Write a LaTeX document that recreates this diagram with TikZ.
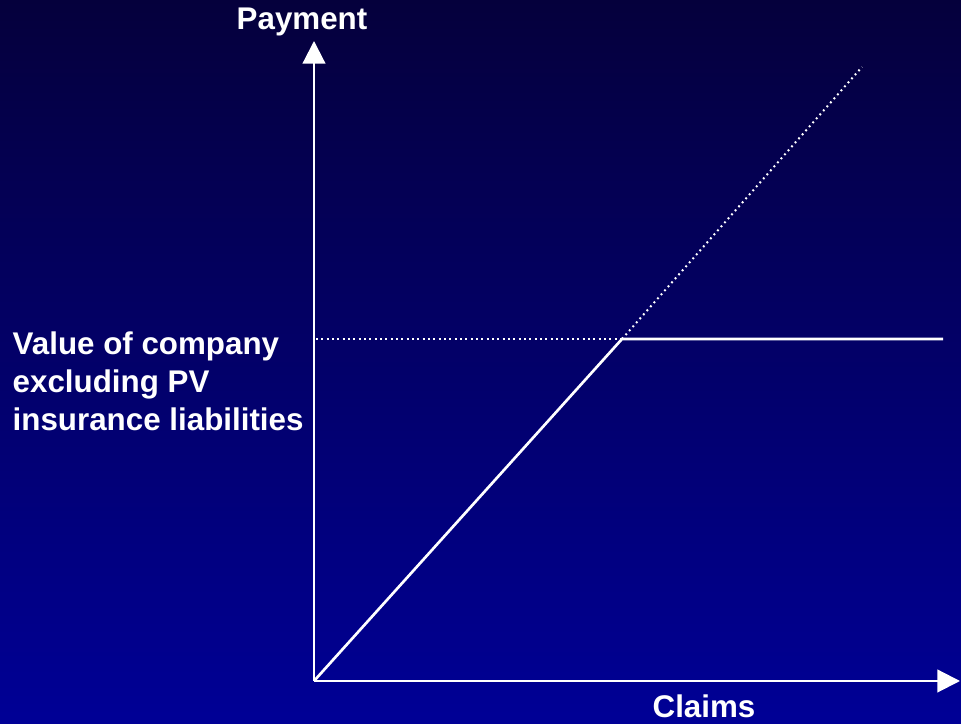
\documentclass[tikz,border=0pt]{standalone}
\usepackage{fontspec}
\setmainfont{Liberation Sans}
\usetikzlibrary{arrows.meta}
\definecolor{bgtop}{RGB}{5,0,60}
\definecolor{bgbottom}{RGB}{0,0,150}
\tikzset{
    axis/.style={white, line width=1.6pt, -{Triangle[width=17pt,length=17pt]}},
    payoff/.style={white, line width=2pt},
    guide/.style={white, line width=1.5pt, dash pattern=on 1.4pt off 2.6pt},
    lbl/.style={white, font=\fontsize{23.5}{28.5}\selectfont\bfseries}
}
\begin{document}
\begin{tikzpicture}[x=0.75pt,y=0.75pt]
    % background
    \fill[top color=bgtop,bottom color=bgbottom] (0,0) rectangle (961,724);
    \useasboundingbox (0,0) rectangle (961,724);

    \coordinate (O) at (314,43);
    \coordinate (ytip) at (314,683);
    \coordinate (xtip) at (960,43);
    \coordinate (kink) at (622,385);
    \coordinate (flat) at (943,385);
    \coordinate (diag) at (862,657);
    \coordinate (hstart) at (316,385);

    \draw[axis] (O) -- (ytip);
    \draw[axis] (O) -- (xtip);

    \draw[guide] (hstart) -- (kink);
    \draw[guide] (kink) -- (diag);
    \draw[payoff] (O) -- (kink) -- (flat);

    \node[lbl] (pay) at (302,702) {Payment};
    \node[lbl, anchor=base, inner sep=0pt] (clm) at (704,6) {Claims};
    \node[lbl, anchor=west, align=left] (val) at (8,343)
        {Value of company\\excluding PV\\insurance liabilities};
\end{tikzpicture}
\end{document}
